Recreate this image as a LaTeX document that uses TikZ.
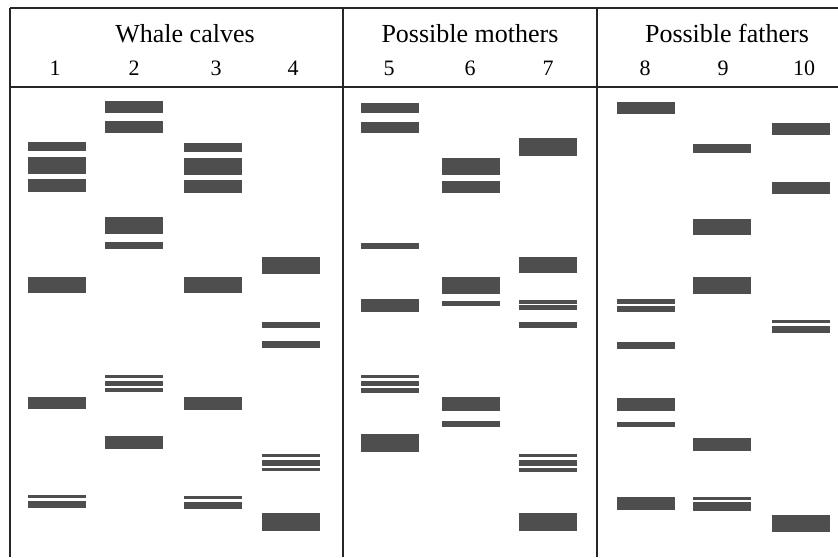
\documentclass[tikz,border=0pt]{standalone}
\usepackage{fontspec}
\setmainfont{Liberation Serif}
\usepackage{xcolor}
\definecolor{bandgrey}{RGB}{78,78,78}
\tikzset{
  band/.style={fill=bandgrey},
  frame/.style={line width=1.3pt, black!85},
  head/.style={anchor=base, font=\fontsize{26}{30}\selectfont},
  lanenum/.style={anchor=base, font=\fontsize{22}{26}\selectfont}
}

\begin{document}
\begin{tikzpicture}[x=1pt, y=-1pt]
        \useasboundingbox (0,0) rectangle (838,557);

        % frame
        \draw[frame] (10,8) -- (838,8);
        \draw[frame] (10,87) -- (838,87);
        \draw[frame] (10,8) -- (10,557);
        \draw[frame] (343,8) -- (343,557);
        \draw[frame] (597,8) -- (597,557);

        % headings
        \node[head] (calves) at (185,42) {Whale calves};
        \node[head] (mothers) at (470,42) {Possible mothers};
        \node[head] (fathers) at (727,42) {Possible fathers};
        \foreach \n/\x in {1/55, 2/134, 3/216, 4/293, 5/389, 6/470, 7/548, 8/645, 9/723, 10/804}
            \node[lanenum] (lane\n) at (\x,75) {\n};

        % bands: left edge / top / bottom
        \foreach \x/\a/\b in {28/142/151, 28/157/174, 28/179/192, 28/277/293, 28/397/409, 28/495/498, 28/501/508,
                              105/101/113, 105/121/133, 105/217/234, 105/242/249, 105/375/378, 105/381/386, 105/388/392, 105/436/449,
                              184/143/152, 184/158/175, 184/180/193, 184/277/293, 184/397/410, 184/496/499, 184/502/509,
                              262/257/274, 262/322/328, 262/341/348, 262/454/457, 262/460/466, 262/468/471, 262/513/531}
            \fill[band] (\x,\a) rectangle (\x+58,\b);
        \foreach \x/\a/\b in {361/103/113, 361/122/133, 361/243/249, 361/299/312, 361/375/378, 361/381/386, 361/388/393, 361/434/452,
                              442/158/175, 442/181/193, 442/277/294, 442/301/306, 442/397/411, 442/421/427,
                              519/138/156, 519/257/273, 519/300/304, 519/305/310, 519/322/328, 519/454/457, 519/460/466, 519/468/472, 519/513/531}
            \fill[band] (\x,\a) rectangle (\x+58,\b);
        \foreach \x/\a/\b in {617/102/114, 617/299/304, 617/306/312, 617/342/349, 617/398/411, 617/422/427, 617/497/510,
                              693/144/153, 693/219/235, 693/277/294, 693/438/451, 693/497/500, 693/502/511,
                              772/123/135, 772/182/194, 772/320/323, 772/326/333, 772/515/532}
            \fill[band] (\x,\a) rectangle (\x+58,\b);

    \end{tikzpicture}
\end{document}
